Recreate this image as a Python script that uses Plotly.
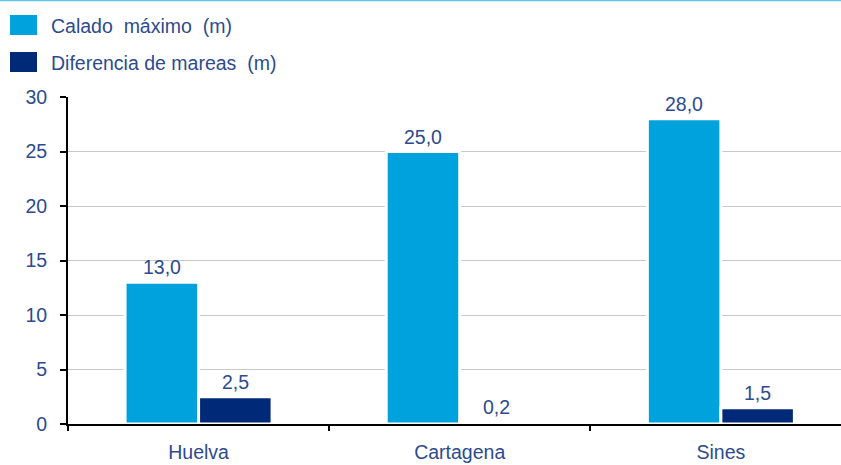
import plotly.graph_objects as go

# Port data: maximum draught and tidal range (metres)
ports = ["Huelva", "Cartagena", "Sines"]
calado_maximo = [13.0, 25.0, 28.0]
diferencia_mareas = [2.5, 0.2, 1.5]
y_ticks = [0, 5, 10, 15, 20, 25, 30]

series_names = ["Calado\u00a0 máximo\u00a0 (m)", "Diferencia de mareas\u00a0 (m)"]
series_colors = ["#00A2DD", "#002A78"]

TEXT_COLOR = "#2D4B8E"
FONT = "Liberation Sans, Arial, sans-serif"
FONT_SIZE = 19.5

# plot-area geometry in pixels (used for paper-coordinate conversion)
L, T, W, H = 68, 97, 773, 327


def px_x(x):
    return (x - L) / W


def px_y(y):
    return 1 + (T - y) / H


fig = go.Figure()
for name, values, color in zip(series_names, [calado_maximo, diferencia_mareas], series_colors):
    fig.add_trace(go.Bar(
        x=ports, y=values, name=name,
        marker=dict(color=color, line=dict(color="white", width=3)),
        showlegend=False,
    ))

# Value labels above each bar (decimal comma)
offsets = [-37, 37]
for values, dx in zip([calado_maximo, diferencia_mareas], offsets):
    for port, v in zip(ports, values):
        fig.add_annotation(
            x=port, y=v, xref="x", yref="y",
            text=f"{v:.1f}".replace(".", ","),
            showarrow=False, xshift=dx, yshift=2, yanchor="bottom",
            font=dict(family=FONT, size=FONT_SIZE, color=TEXT_COLOR),
        )

# Legend drawn as swatches + labels in the top-left corner
legend_rows = [25, 62]
for name, color, yc in zip(series_names, series_colors, legend_rows):
    fig.add_shape(
        type="rect", xref="paper", yref="paper",
        x0=px_x(10), x1=px_x(37),
        y0=px_y(yc - 10), y1=px_y(yc + 10),
        line=dict(width=0), fillcolor=color, layer="above",
    )
    fig.add_annotation(
        xref="paper", yref="paper",
        x=px_x(49), y=px_y(yc + 1),
        text=name, showarrow=False, xanchor="left", yanchor="middle",
        font=dict(family=FONT, size=FONT_SIZE, color=TEXT_COLOR),
    )

# Thin cyan rule across the top edge
fig.add_shape(
    type="line", xref="paper", yref="paper",
    x0=px_x(0), x1=1, y0=px_y(0.5), y1=px_y(0.5),
    line=dict(color="#5BC8EC", width=1.5),
)

fig.update_layout(
    width=841, height=465,
    margin=dict(l=L, r=0, t=T, b=465 - T - H, autoexpand=False),
    paper_bgcolor="white", plot_bgcolor="white",
    barmode="group", bargap=0.437, bargroupgap=0,
    separators=",.",
    font=dict(family=FONT, size=FONT_SIZE, color=TEXT_COLOR),
    xaxis=dict(
        range=[-0.5, 2.46], automargin=False,
        showline=True, linecolor="black", linewidth=2,
        ticks="outside", tickson="boundaries", ticklen=5, tickwidth=2, tickcolor="black",
        showgrid=False,
        ticklabelstandoff=10,
        tickfont=dict(family=FONT, size=FONT_SIZE, color=TEXT_COLOR),
    ),
    yaxis=dict(
        range=[0, 30], tickvals=y_ticks, automargin=False,
        showline=True, linecolor="black", linewidth=2,
        ticks="outside", ticklen=6, tickwidth=2, tickcolor="black",
        showgrid=True, gridcolor="#C8C8C8", gridwidth=1,
        zeroline=False,
        ticklabelstandoff=9,
        tickfont=dict(family=FONT, size=FONT_SIZE, color=TEXT_COLOR),
    ),
)

fig.write_html("out.html")
